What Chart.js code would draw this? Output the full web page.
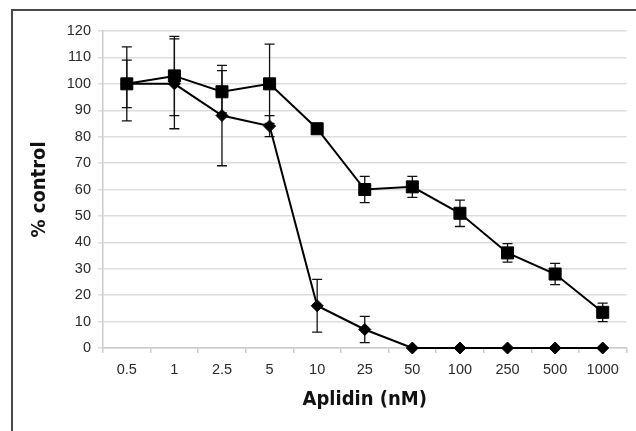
<!DOCTYPE html>
<html>
<head>
<meta charset="utf-8">
<script src="https://cdn.jsdelivr.net/npm/chart.js@4/dist/chart.umd.min.js"></script>
<style>
  html, body { margin: 0; padding: 0; background: #ffffff; }
  #wrap { width: 636px; height: 431px; position: relative; }
</style>
</head>
<body>
<div id="wrap"><canvas id="c" width="636" height="431"></canvas></div>
<script>
const categories = ['0.5', '1', '2.5', '5', '10', '25', '50', '100', '250', '500', '1000'];
const squareValues = [100, 103, 97, 100, 83, 60, 61, 51, 36, 28, 13.5];
const squareErrors = [14, 15, 8, 15, 0, 5, 4, 5, 3.5, 4, 3.5];
const diamondValues = [100, 100, 88, 84, 16, 7, 0, 0, 0, 0, 0];
const diamondErrors = [9, 17, 19, 4, 10, 5, 0, 0, 0, 0, 0];
const yTicks = [0, 10, 20, 30, 40, 50, 60, 70, 80, 90, 100, 110, 120];
const xTitle = 'Aplidin (nM)';
const yTitle = '% control';

const titleFont = { family: "'DejaVu Sans Condensed', 'DejaVu Sans', sans-serif", size: 20, weight: 'bold' };
const tickFont = { family: 'Liberation Sans', size: 14.5 };

const framePlugin = {
  id: 'frame',
  afterDraw(chart) {
    const ctx = chart.ctx;
    ctx.save();
    ctx.strokeStyle = '#4a4a4a';
    ctx.lineWidth = 2;
    ctx.beginPath();
    ctx.moveTo(12, 431);
    ctx.lineTo(12, 10);
    ctx.lineTo(636, 10);
    ctx.stroke();
    ctx.restore();
  }
};

const errorBarPlugin = {
  id: 'errorBars',
  beforeDatasetsDraw(chart) {
    const ctx = chart.ctx;
    const y = chart.scales.y;
    ctx.save();
    ctx.strokeStyle = '#111111';
    ctx.lineWidth = 1.3;
    chart.data.datasets.forEach((ds, di) => {
      const meta = chart.getDatasetMeta(di);
      const errs = ds.errors || [];
      meta.data.forEach((pt, i) => {
        const e = errs[i];
        if (!e) return;
        const v = ds.data[i];
        const yt = y.getPixelForValue(v + e);
        const yb = y.getPixelForValue(v - e);
        const x = pt.x;
        ctx.beginPath();
        ctx.moveTo(x, yt); ctx.lineTo(x, yb);
        ctx.moveTo(x - 5, yt); ctx.lineTo(x + 5, yt);
        ctx.moveTo(x - 5, yb); ctx.lineTo(x + 5, yb);
        ctx.stroke();
      });
    });
    ctx.restore();
  }
};

new Chart(document.getElementById('c'), {
  type: 'line',
  data: {
    labels: categories,
    datasets: [
      {
        label: 'square',
        data: squareValues,
        errors: squareErrors,
        borderColor: '#000000',
        borderWidth: 2,
        backgroundColor: '#000000',
        pointStyle: 'rect',
        pointRadius: 8.5,
        pointBorderWidth: 1,
        pointBackgroundColor: '#000000',
        pointBorderColor: '#000000',
        tension: 0,
        clip: false
      },
      {
        label: 'diamond',
        data: diamondValues,
        errors: diamondErrors,
        borderColor: '#000000',
        borderWidth: 2,
        backgroundColor: '#000000',
        pointStyle: 'rectRot',
        pointRadius: 6,
        pointBorderWidth: 1,
        pointBackgroundColor: '#000000',
        pointBorderColor: '#000000',
        tension: 0,
        clip: false
      }
    ]
  },
  options: {
    responsive: false,
    animation: false,
    devicePixelRatio: 1,
    layout: { padding: { left: 14, right: 3, top: 31, bottom: 0 } },
    plugins: { legend: { display: false }, tooltip: { enabled: false } },
    scales: {
      x: {
        type: 'category',
        offset: true,
        afterFit(scale) { scale.height = 83; },
        grid: {
          offset: true,
          drawOnChartArea: false,
          drawTicks: true,
          tickLength: 5,
          color: '#cccccc',
          lineWidth: 1.5
        },
        border: { display: true, color: '#cccccc', width: 1.5 },
        ticks: {
          color: '#2a2a2a',
          padding: 8,
          font: tickFont,
          maxRotation: 0
        },
        title: {
          display: true,
          text: xTitle,
          color: '#111111',
          font: titleFont,
          padding: { top: 0, bottom: 19 }
        }
      },
      y: {
        min: 0,
        max: 120,
        afterFit(scale) { scale.width = 89; },
        afterBuildTicks(scale) { scale.ticks = yTicks.map(v => ({ value: v })); },
        grid: {
          drawTicks: true,
          tickLength: 5,
          color: '#dddddd',
          lineWidth: 1.5
        },
        border: { display: true, color: '#cccccc', width: 1.5 },
        ticks: {
          color: '#2a2a2a',
          padding: 7,
          font: tickFont
        },
        title: {
          display: true,
          text: yTitle,
          color: '#111111',
          font: titleFont,
          padding: { top: 14, bottom: 0 }
        }
      }
    }
  },
  plugins: [framePlugin, errorBarPlugin]
});
</script>
</body>
</html>
